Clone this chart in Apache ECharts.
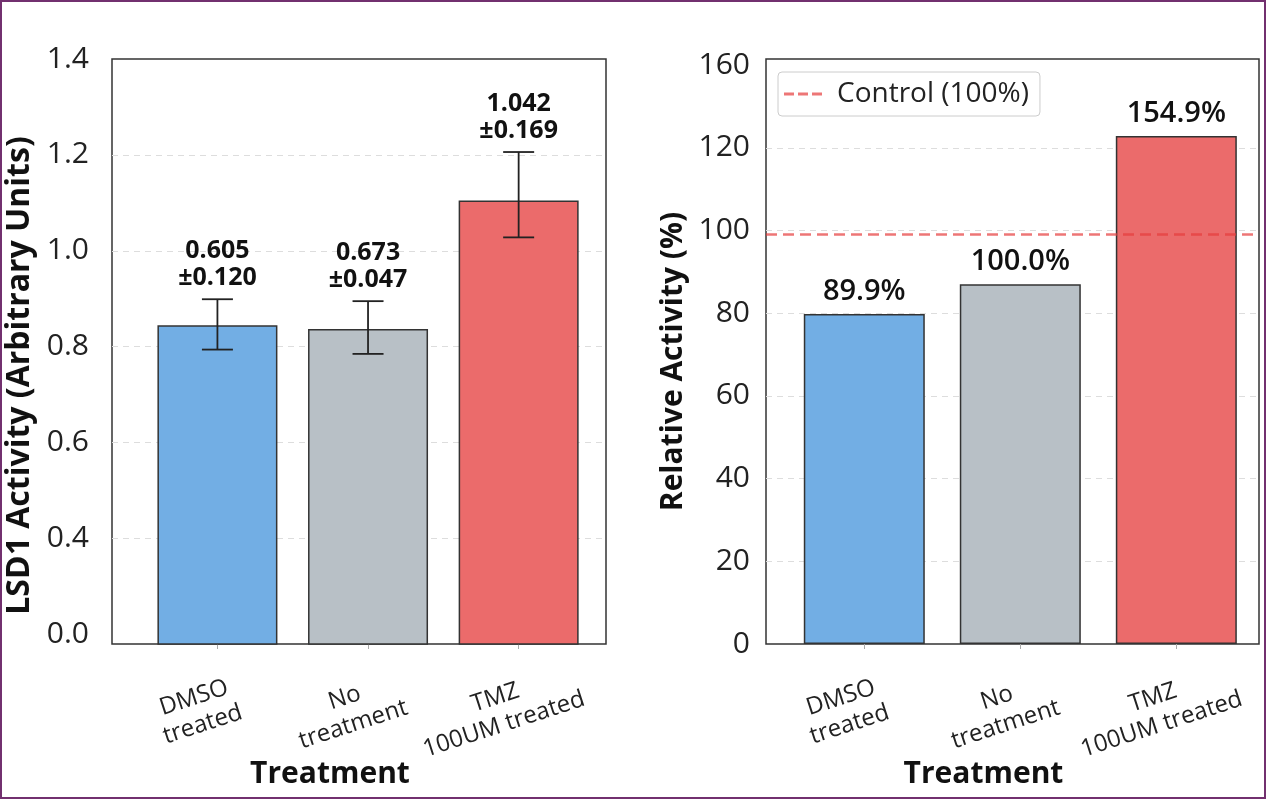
<!DOCTYPE html>
<html><head><meta charset="utf-8">
<script src="https://cdn.jsdelivr.net/npm/echarts@6.0.0/dist/echarts.min.js"></script>
<style>
html,body{margin:0;padding:0;background:#fff;}
#chart{position:absolute;left:0;top:0;width:1266px;height:799px;}
#frame{position:absolute;left:0;top:0;width:1266px;height:799px;box-sizing:border-box;border:2px solid #72306f;pointer-events:none;}
</style></head><body>
<div id="chart"></div><div id="frame"></div>
<script>
const categories = ['DMSO\ntreated', 'No\ntreatment', 'TMZ\n100UM treated'];
const activityBars = [0.845, 0.837, 1.105];
const activityErrLow = [0.794, 0.785, 1.028];
const activityErrHigh = [0.899, 0.895, 1.206];
const activityLabels = ['0.605\n±0.120', '0.673\n±0.047', '1.042\n±0.169'];
const relativeBars = [79.8, 87.0, 122.9];
const relativeLabels = ['89.9%', '100.0%', '154.9%'];
const controlLevel = 99;
const controlName = 'Control (100%)';
const leftTickValues = [0.2, 0.4, 0.6, 0.8, 1.0, 1.2, 1.4];
const leftTickLabels = ['0.0', '0.4', '0.6', '0.8', '1.0', '1.2', '1.4'];
const leftGridValues = [0.4, 0.6, 0.8, 1.0, 1.2];
const rightTickValues = [0, 20, 40, 60, 80, 100, 120, 140];
const rightTickLabels = ['0', '20', '40', '60', '80', '100', '120', '160'];
const rightGridValues = [20, 40, 60, 80, 100, 120];
const barColors = ['#72aee4', '#b8c0c6', '#eb6b6b'];

const FONT = 'Open Sans';
function tickFmt(values, labels) {
  return function (v) {
    const i = values.findIndex(t => Math.abs(t - v) < 1e-6);
    return i >= 0 ? labels[i] : '';
  };
}
const catIdx = categories.map((c, i) => i);

function xAxisCfg(gridIndex, min, max) {
  return {
    gridIndex, type: 'value', min, max,
    axisLine: { show: false },
    splitLine: { show: false },
    axisTick: { show: true, customValues: catIdx, length: 5, lineStyle: { color: '#aaa' } },
    axisLabel: {
      // blank end entries (hidden) keep the boundary-overlap check away from the category labels
      customValues: [min].concat(catIdx, [max]), showMinLabel: false, showMaxLabel: false, hideOverlap: false,
      formatter: v => {
        const i = catIdx.findIndex(c => Math.abs(c - v) < 1e-6);
        return i >= 0 ? categories[i] : '';
      },
      rotate: 18, fontSize: 24, lineHeight: 28, color: '#222', fontFamily: FONT,
      margin: 61, align: 'center', verticalAlign: 'middle', padding: [0, 40, 0, 0]
    },
    name: 'Treatment', nameLocation: 'middle', nameGap: 115, nameMoveOverlap: false,
    nameTextStyle: { fontSize: 30, fontWeight: 'bold', color: '#111', fontFamily: FONT, padding: [0, 58, 0, 0] }
  };
}

const chart = echarts.init(document.getElementById('chart'));
chart.setOption({
  animation: false,
  textStyle: { fontFamily: FONT },
  grid: [
    { left: 112, top: 59, right: 660, bottom: 155, outerBoundsMode: 'none', containLabel: false, show: true, borderColor: '#333', borderWidth: 1.5, backgroundColor: 'transparent' },
    { left: 766, top: 59, right: 7, bottom: 155, outerBoundsMode: 'none', containLabel: false, show: true, borderColor: '#333', borderWidth: 1.5, backgroundColor: 'transparent' }
  ],
  legend: {
    left: 778, top: 72,
    data: [{ name: controlName, icon: 'path://M0,0h10v3H0z M14,0h10v3H14z M28,0h10v3H28z', itemStyle: { color: 'rgba(230,60,60,0.7)' } }],
    itemWidth: 38, itemHeight: 3,
    backgroundColor: '#fff', borderColor: '#ccc', borderWidth: 1, borderRadius: 4,
    padding: [8, 11, 8, 6],
    textStyle: { fontSize: 28, color: '#222', fontFamily: FONT, padding: [0, 0, 0, 10] }
  },
  xAxis: [
    xAxisCfg(0, -0.7, 2.58),
    xAxisCfg(1, -0.63, 2.53)
  ],
  yAxis: [
    {
      gridIndex: 0, type: 'value', min: 0.18, max: 1.4,
      axisLine: { show: false },
      axisTick: { show: false, customValues: leftGridValues },
      splitLine: { show: true, lineStyle: { color: '#ddd', type: [6, 5], width: 1 } },
      axisLabel: { customValues: leftTickValues, showMinLabel: true, showMaxLabel: true, fontSize: 30, color: '#222', margin: 23, fontFamily: FONT, formatter: tickFmt(leftTickValues, leftTickLabels) },
      name: 'LSD1 Activity (Arbitrary Units)', nameLocation: 'middle', nameGap: 76, nameMoveOverlap: false,
      nameTextStyle: { fontSize: 32, fontWeight: 'bold', color: '#111', fontFamily: FONT, padding: [0, 48, 0, 0] }
    },
    {
      gridIndex: 1, type: 'value', min: 0, max: 141.5,
      axisLine: { show: false },
      axisTick: { show: false, customValues: rightGridValues },
      splitLine: { show: true, lineStyle: { color: '#ddd', type: [6, 5], width: 1 } },
      axisLabel: { customValues: rightTickValues, showMinLabel: true, showMaxLabel: true, fontSize: 30, color: '#222', margin: 16, fontFamily: FONT, formatter: tickFmt(rightTickValues, rightTickLabels) },
      name: 'Relative Activity (%)', nameLocation: 'middle', nameGap: 78, nameMoveOverlap: false,
      nameTextStyle: { fontSize: 30, fontWeight: 'bold', color: '#111', fontFamily: FONT, padding: [0, 20, 0, 0] }
    }
  ],
  series: [
    {
      type: 'bar', xAxisIndex: 0, yAxisIndex: 0, barWidth: 120, clip: true,
      data: activityBars.map((v, i) => ({ value: [i, v], itemStyle: { color: barColors[i] } })),
      itemStyle: { borderColor: '#333', borderWidth: 1.5 }
    },
    {
      type: 'custom', xAxisIndex: 0, yAxisIndex: 0, z: 5,
      data: activityBars.map((v, i) => [i, activityErrLow[i], activityErrHigh[i]]),
      encode: { x: 0, y: [1, 2] },
      renderItem: function (params, api) {
        const x = api.value(0);
        const top = api.coord([x, api.value(2)]);
        const bot = api.coord([x, api.value(1)]);
        const cap = 15.5;
        const st = { stroke: '#222', lineWidth: 1.8 };
        return {
          type: 'group', children: [
            { type: 'line', shape: { x1: top[0], y1: top[1], x2: bot[0], y2: bot[1] }, style: st },
            { type: 'line', shape: { x1: top[0] - cap, y1: top[1], x2: top[0] + cap, y2: top[1] }, style: st },
            { type: 'line', shape: { x1: bot[0] - cap, y1: bot[1], x2: bot[0] + cap, y2: bot[1] }, style: st },
            { type: 'text', x: top[0], y: top[1] - 8, style: {
              text: activityLabels[params.dataIndex], align: 'center', verticalAlign: 'bottom',
              fontSize: 25, fontWeight: 'bold', fontFamily: FONT, fill: '#111', lineHeight: 27 } }
          ]
        };
      }
    },
    {
      type: 'bar', xAxisIndex: 1, yAxisIndex: 1, barWidth: 121, clip: true,
      data: relativeBars.map((v, i) => ({ value: [i, v], itemStyle: { color: barColors[i] } })),
      itemStyle: { borderColor: '#333', borderWidth: 1.5 },
      label: {
        show: true, position: 'top', distance: 8,
        formatter: p => relativeLabels[p.dataIndex],
        fontSize: 29, fontWeight: 600, color: '#111', fontFamily: FONT
      }
    },
    {
      type: 'line', name: controlName, xAxisIndex: 1, yAxisIndex: 1, data: [],
      color: 'rgba(230,60,60,0.7)',
      markLine: {
        symbol: 'none', silent: true, label: { show: false }, z: 10,
        lineStyle: { type: [11, 6], color: 'rgba(230,60,60,0.7)', width: 2.5 },
        data: [{ yAxis: controlLevel }]
      }
    }
  ]
});
</script>
</body></html>
